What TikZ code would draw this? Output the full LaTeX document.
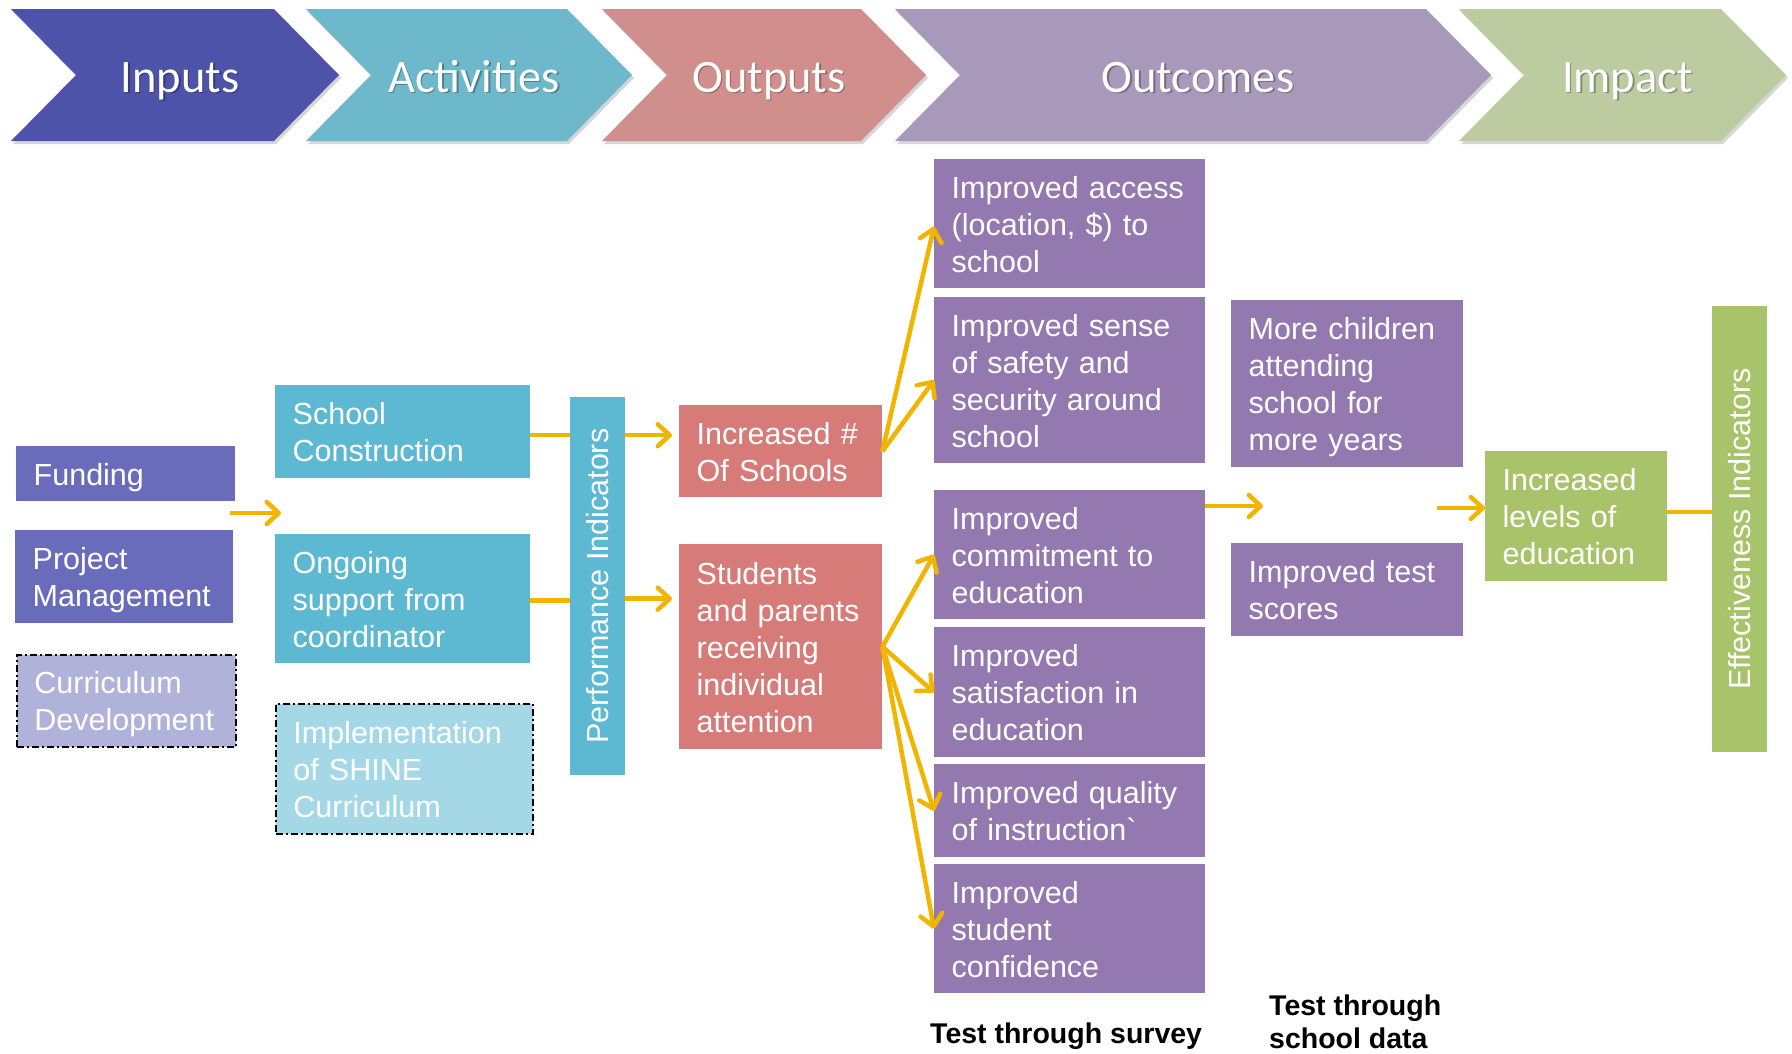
\documentclass[tikz,border=0pt]{standalone}
\usepackage{fontspec}
\setmainfont{Liberation Sans}
\setmonofont{Liberation Sans}
\newfontfamily\chevfont{Carlito}
\usetikzlibrary{arrows.meta,calc}
\definecolor{cInp}{HTML}{4D53A9}
\definecolor{cAct}{HTML}{6DB8CB}
\definecolor{cOutp}{HTML}{D08F8C}
\definecolor{cOutc}{HTML}{A898BA}
\definecolor{cImp}{HTML}{BDCBA0}
\definecolor{bBlue}{HTML}{696CBA}
\definecolor{bLav}{HTML}{B0B2DA}
\definecolor{bCyan}{HTML}{5CB9D1}
\definecolor{bLCyan}{HTML}{A4D8E6}
\definecolor{bRed}{HTML}{D77B78}
\definecolor{bPurp}{HTML}{9479B0}
\definecolor{bGreen}{HTML}{A9C36B}
\definecolor{arr}{HTML}{F1B500}
\newcommand\mybox[7]{%
  \pgfmathsetmacro\tw{#4-35}%
  \node[bx,fill=#6,minimum width=#4pt,minimum height=#5pt,text width=\tw pt] (#1) at (#2,#3) {\rule{0pt}{34pt}#7\strut};}
\newcommand\chev[5]{%
  \fill[black,opacity=0.16] ({#2+2},12) -- ({#3-63},12) -- ({#3+2},78) -- ({#3-63},144) -- ({#2+2},144) -- ({#2+67},78) -- cycle;
  \fill[#4] (#2,9) -- ({#3-65},9) -- (#3,75) -- ({#3-65},141) -- (#2,141) -- ({#2+65},75) -- cycle;
  \node[chevt,text=black,opacity=0.3] (#1s) at ({(#2+#3)/2+6.5},93.5) {#5};
  \node[chevt] (#1) at ({(#2+#3)/2+5},92) {#5};
}
\begin{document}
\begin{tikzpicture}[x=1pt,y=-1pt,
  bx/.style={draw=none, inner xsep=17.5pt, inner ysep=0pt, anchor=north west, align=left,
     text=white, font=\fontsize{30.5}{37}\selectfont},
  dashbox/.style={draw=black, line width=1.8pt, dash pattern=on 7pt off 3pt on 2pt off 3pt},
  chevt/.style={anchor=base, font=\chevfont\fontsize{46.5}{50}\selectfont, text=white, inner sep=0pt},
  vbar/.style={anchor=north west, inner sep=0pt},
  vtext/.style={rotate=90, text=white, font=\fontsize{30.5}{36.5}\selectfont, inner sep=0pt},
  ln/.style={draw=arr, line width=4.5pt},
  conn/.style={draw=arr, line width=4.5pt, -{Straight Barb[length=12pt,width=22pt,round]}},
  lbl/.style={inner sep=0pt, font=\bfseries\fontsize{28.5}{33}\selectfont, text=black, align=left}
]
\useasboundingbox (0,0) rectangle (1792,1053);
\fill[white] (0,0) rectangle (1792,1053);

% chevrons
\chev{chIn}{11}{339}{cInp}{Inputs}
\chev{chAc}{306}{632}{cAct}{Activities}
\chev{chOp}{602}{926}{cOutp}{Outputs}
\chev{chOc}{895}{1491}{cOutc}{Outcomes}
\chev{chIm}{1459}{1786}{cImp}{Impact}

% inputs
\mybox{fund}{16}{446}{219}{55}{bBlue}{Funding}
\mybox{pm}{15}{530}{218}{93}{bBlue}{Project\\Management}
\mybox{cd}{16}{654}{219}{92}{bLav,dashbox}{Curriculum\\Development}

% activities
\mybox{sc}{275}{385}{255}{93}{bCyan}{School\\Construction}
\mybox{og}{275}{534}{255}{129}{bCyan}{Ongoing\\support from\\coordinator}
\mybox{imp}{275}{703}{257}{130}{bLCyan,dashbox}{Implementation\\of SHINE\\Curriculum}

% performance indicators bar
\node[vbar,fill=bCyan,minimum width=55pt,minimum height=378pt] (pi) at (570,397) {};
\node[vtext] (pit) at (pi.center) {Performance Indicators};

% outputs
\mybox{inc}{679}{405}{203}{92}{bRed}{Increased \#\\Of Schools}
\mybox{stu}{679}{544}{203}{205}{bRed}{Students\\and parents\\receiving\\individual\\attention}

% outcomes
\mybox{acc}{934}{159}{271}{129}{bPurp}{Improved access\\(location, \$) to\\school}
\mybox{sen}{934}{297}{271}{166}{bPurp}{Improved sense\\of safety and\\security around\\school}
\mybox{com}{934}{490}{271}{129}{bPurp}{Improved\\commitment to\\education}
\mybox{sat}{934}{627}{271}{130}{bPurp}{Improved\\satisfaction in\\education}
\mybox{qua}{934}{764}{271}{93}{bPurp}{Improved quality\\of instruction{\ttfamily `}}
\mybox{con}{934}{864}{271}{129}{bPurp}{Improved\\student\\confidence}

\mybox{mc}{1231}{300}{232}{167}{bPurp}{More children\\attending\\school for\\more years}
\mybox{tsc}{1231}{543}{232}{93}{bPurp}{Improved test\\scores}

% impact
\mybox{gr}{1485}{451}{182}{130}{bGreen}{Increased\\levels of\\education}
\node[vbar,fill=bGreen,minimum width=55pt,minimum height=446pt] (eff) at (1712,306) {};
\node[vtext] (efft) at (eff.center) {Effectiveness Indicators};

% labels
\node[lbl,anchor=base west] (lsv) at (930,1043) {Test through survey};
\node[lbl,anchor=north west] (lsd) at (1269,994.5) {Test through\\school data};

% free arrow ends
\coordinate (a0s) at (230,513);
\coordinate (a0e) at (281,513);
\coordinate (a1s) at (1205,506);
\coordinate (a1e) at (1263,506);
\coordinate (a2s) at (1437,508);

% connectors
\draw[conn] (a0s) -- (a0e);
\draw[ln] ([yshift=-3.5pt]sc.east) -- ([yshift=-3.5pt]sc.east -| pi.west);
\draw[ln] ([yshift=-2pt]og.east) -- ([yshift=-2pt]og.east -| pi.west);
\draw[conn,shorten >=7pt] ([yshift=-3.5pt]sc.east -| pi.east) -- ([yshift=-3.5pt]sc.east -| inc.west);
\draw[conn,shorten >=7pt] (og.east -| pi.east) -- (og.east -| stu.west);

\draw[conn] (inc.east) -- ([yshift=-3pt]acc.west);
\draw[conn] (inc.east) -- (sen.west);
\draw[conn] (stu.east) -- (com.west);
\draw[conn] (stu.east) -- (sat.west);
\draw[conn] (stu.east) -- (qua.west);
\draw[conn] (stu.east) -- (con.west);

\draw[conn] (a1s) -- (a1e);
\draw[conn] (a2s) -- (a2s -| gr.west);
\draw[ln] ([yshift=4pt]gr.east) -- ([yshift=4pt]gr.east -| eff.west);
\end{tikzpicture}
\end{document}
